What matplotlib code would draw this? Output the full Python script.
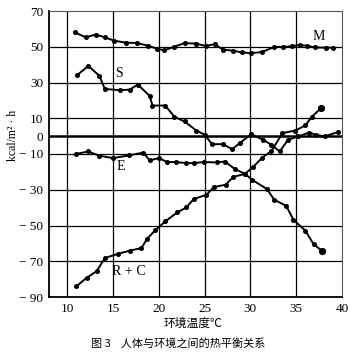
import matplotlib
matplotlib.use("Agg")
import matplotlib.pyplot as plt

# ---- data ----
M_t = [10.8, 12.0, 13.1, 14.1, 15.1, 16.4, 17.6, 18.8, 19.8, 20.6, 21.7, 22.8, 24.0, 25.1,
       26.1, 27.0, 28.1, 29.1, 30.1, 31.3, 32.6, 33.6, 34.5, 35.4, 36.2, 37.1, 38.2, 39.0]
M_v = [58.1, 55.3, 56.8, 55.3, 53.4, 52.3, 52.1, 50.6, 48.9, 48.0, 50.1, 52.0, 51.8, 50.5,
       51.4, 48.4, 47.8, 46.8, 46.4, 47.1, 49.9, 49.9, 50.3, 51.0, 50.5, 49.6, 49.5, 49.5]

S_t = [11.1, 12.3, 13.5, 14.1, 15.7, 16.8, 17.7, 19.0, 19.3, 20.7, 21.7, 22.8, 24.1, 25.0,
       25.8, 27.0, 28.0, 28.9, 30.1, 31.4, 32.3, 33.2, 34.1, 35.2, 36.4, 37.2, 38.1, 39.6]
S_v = [34.2, 39.3, 33.7, 26.4, 25.7, 26.0, 28.8, 22.5, 17.1, 17.1, 10.8, 8.2, 3.1, 0.8,
       -4.5, -4.5, -7.3, -3.6, 1.1, -2.1, -4.9, -8.6, -2.1, -0.2, 2.0, 0.7, -0.2, 2.4]

E_t = [11.0, 12.3, 13.5, 15.0, 16.7, 18.3, 19.0, 20.0, 20.9, 21.9, 23.0, 23.8, 24.9,
       26.3, 27.2, 28.3, 29.4, 30.2, 31.8, 32.6, 33.9, 34.7, 36.0, 36.9, 37.8]
E_v = [-9.9, -8.6, -11.0, -12.3, -10.8, -9.2, -13.6, -12.3, -14.5, -14.5, -15.1, -15.1, -14.5,
       -14.7, -14.2, -18.4, -21.1, -24.5, -29.6, -35.6, -39.0, -46.8, -52.9, -60.5, -64.1]

RC_t = [11.0, 12.1, 13.2, 14.1, 15.5, 16.8, 18.1, 18.7, 19.6, 20.7, 22.0, 23.0, 23.8,
        25.2, 26.0, 27.3, 28.1, 29.4, 30.3, 31.3, 32.3, 33.5, 34.9, 36.0, 36.7, 37.7]
RC_v = [-84.0, -79.3, -75.6, -68.2, -65.9, -64.1, -62.6, -57.5, -52.7, -47.7, -42.7, -39.9, -35.2,
        -32.8, -28.5, -27.2, -22.9, -21.1, -17.2, -12.0, -8.3, 1.7, 3.1, 6.0, 10.8, 15.6]

y_ticks = [70, 50, 30, 10, 0, -10, -30, -50, -70, -90]
y_labels = ["70", "50", "30", "10", "0", "− 10", "− 30", "− 50", "− 70", "− 90"]
x_ticks = [10, 15, 20, 25, 30, 35, 40]
x_labels = ["10", "15", "20", "25", "30", "35", "40"]

series_labels = [("M", 37.5, 55.9), ("S", 15.6, 34.8), ("E", 15.8, -16.8), ("R + C", 16.7, -75.8)]

xlabel = "环境温度℃"
caption = "图 3    人体与环境之间的热平衡关系"
ylabel = "kcal/m² · h"

# ---- figure ----
fig = plt.figure(figsize=(3.58, 3.58), dpi=100)
ax = fig.add_axes([49 / 358, 1 - 297 / 358, (342 - 49) / 358, (297 - 11) / 358])
ax.set_xlim(8, 40)
ax.set_ylim(-90, 70)

# grid
for xv in [10, 15, 20, 25, 30, 35]:
    ax.axvline(xv, color="black", lw=0.9, zorder=1)
for yv in [50, 30, 10, -10, -30, -50, -70]:
    ax.axhline(yv, color="black", lw=0.9, zorder=1)
ax.axhline(0, color="black", lw=1.8, zorder=1)

for t, v in [(M_t, M_v), (S_t, S_v), (E_t, E_v), (RC_t, RC_v)]:
    ax.plot(t, v, color="black", lw=1.4, marker="o", ms=2.6, zorder=3, clip_on=False)
for t, v in [(E_t, E_v), (RC_t, RC_v)]:
    ax.plot(t[-1:], v[-1:], color="black", marker="o", ms=4.2, ls="none", zorder=4)

serif = ["Liberation Serif", "DejaVu Serif"]
for name, tx, ty in series_labels:
    ax.text(tx, ty, name, fontsize=10, family=serif, ha="center", va="center", zorder=5)

ax.set_xticks(x_ticks)
ax.set_xticklabels(x_labels, family=serif, fontsize=9.5)
ax.set_yticks(y_ticks)
ax.set_yticklabels(y_labels, family=serif, fontsize=9.5)
ax.tick_params(length=0, pad=4)

for side in ["left", "bottom"]:
    ax.spines[side].set_linewidth(1.3)
for side in ["top", "right"]:
    ax.spines[side].set_linewidth(0.8)
    ax.spines[side].set_color("#555555")

fig.text(13 / 358, 1 - 135 / 358, ylabel, rotation=90, ha="center", va="center",
         fontsize=8.5, family=serif)
fig.text(193 / 358, 1 - 323 / 358, xlabel, ha="center", va="center",
         fontsize=8.5, family=["Noto Sans CJK SC", "DejaVu Sans"])
fig.text(178 / 358, 1 - 343 / 358, caption, ha="center", va="center",
         fontsize=8, family=["Noto Sans CJK SC", "DejaVu Sans"])

fig.savefig("out.png", dpi=100)
